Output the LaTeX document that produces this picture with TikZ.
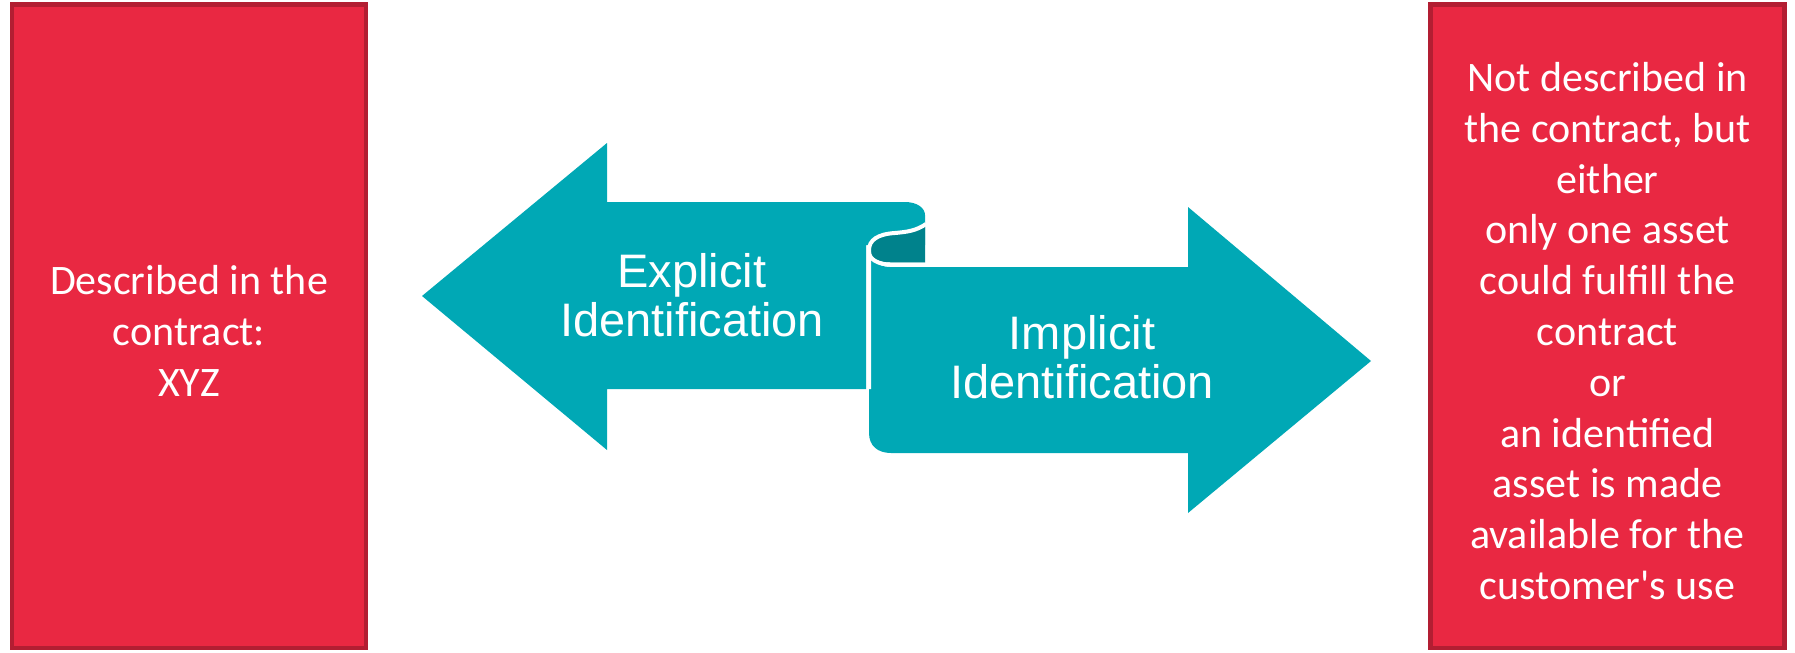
\documentclass[tikz,border=0pt]{standalone}
\usepackage{fontspec}
\setmainfont{Carlito}
\newfontfamily\pfeilfont{Liberation Sans}
\usepackage{tikz}
\usetikzlibrary{positioning}
\definecolor{kastenrot}{RGB}{233,40,66}
\definecolor{randrot}{RGB}{178,30,50}
\definecolor{petrol}{RGB}{0,168,181}
\definecolor{dunkelpetrol}{RGB}{0,130,140}
\tikzstyle{kasten} = [draw=randrot, fill=kastenrot, line width=2.25pt, rectangle,
	minimum width=177pt, minimum height=321.75pt, inner sep=0pt]
\tikzstyle{kastentext} = [align=center, text=white, inner sep=0pt,
	font=\fontsize{21}{25.4}\selectfont]
\tikzstyle{pfeiltext} = [align=center, text=white, inner sep=0pt,
	font=\pfeilfont\fontsize{23.5}{24.5}\selectfont]
\tikzstyle{rollkante} = [white, line width=2pt]

\begin{document}
\begin{tikzpicture}[x=0.5pt, y=-0.5pt]
		\useasboundingbox (0,0) rectangle (1795,653);
		% Kaesten links und rechts
		\node[kasten] (links) at (189,326) {};			% explizit
		\node[kasten] (rechts) at (1607.5,326) {};		% implizit
		\node[kastentext] (linkstext) at (189,331) {Described in the\\contract:\\XYZ};
		\node[kastentext] (rechtstext) at (1607.5,331) {Not described in\\the contract, but\\either\\only one asset\\could fulfill the\\contract\\or\\an identified\\asset is made\\available for the\\customer\textquotesingle s use};
		
		% Pfeil nach links (hinten)
		\fill[petrol] (422,296) -- (607,143) -- (607,202) -- (905,202)
			.. controls (917,202) and (925,208) .. (925,215) -- (925,245) -- (866,245)
			-- (866,389) -- (607,389) -- (607,450) -- cycle;
		% Pfeil nach rechts (vorne)
		\fill[petrol] (869,245) -- (869,433) .. controls (869,446) and (878,453) .. (891,453)
			-- (1188,453) -- (1188,513) -- (1371,361) -- (1188,207) -- (1188,267) -- (890,267)
			.. controls (878,267) and (869,259) .. (869,250) -- cycle;
		% Rolle oben
		\fill[dunkelpetrol] (925,225) -- (925,262.5) -- (890,262.5)
			.. controls (878,262.5) and (869,257) .. (869,250)
			.. controls (869,240) and (878,234) .. (895,233)
			.. controls (906,232) and (916,231) .. (925,225) -- cycle;
		\draw[rollkante] (926,224) .. controls (916,231) and (906,232) .. (895,233)
			.. controls (878,234) and (869,240) .. (869,250) -- (869,389);
		\draw[rollkante] (869,252) .. controls (869,259) and (878,264.5) .. (890,264.5) -- (925,264.5);
		
		% Beschriftung der Pfeile
		\node[pfeiltext] (explizit) at (692,295) {Explicit\\Identification};
		\node[pfeiltext] (implizit) at (1082,357) {Implicit\\Identification};
\end{tikzpicture}
\end{document}
